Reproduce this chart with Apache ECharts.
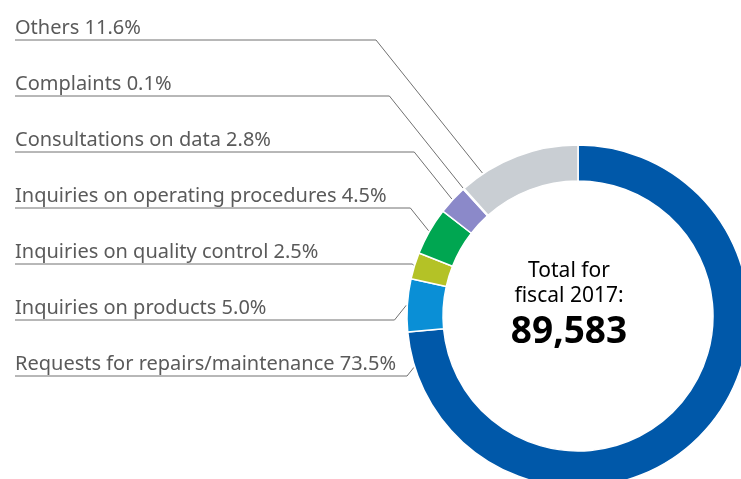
<!DOCTYPE html>
<html>
<head>
<meta charset="utf-8">
<script src="https://cdn.jsdelivr.net/npm/echarts@6/dist/echarts.min.js"></script>
<style>
  html, body { margin: 0; padding: 0; background: #fff; }
  #main { width: 741px; height: 479px; }
</style>
</head>
<body>
<div id="main"></div>
<script>
// data, clockwise from 12 o'clock
var categories = ['Requests for repairs/maintenance', 'Inquiries on products', 'Inquiries on quality control',
    'Inquiries on operating procedures', 'Consultations on data', 'Complaints', 'Others'];
var shares = [73.5, 5.0, 2.5, 4.5, 2.8, 0.1, 11.6];
var colors = ['#0058a9', '#0a8fd6', '#b4c226', '#00a651', '#8b89c9', '#9aa0a6', '#c9ced3'];
var totalLabel = ['Total for', 'fiscal 2017:'];
var totalValue = '89,583';

var cx = 578, cy = 316, rIn = 135, rOut = 171;
var labelLeft = 15, firstLine = 40, lineGap = 56;

var sum = shares.reduce(function (a, b) { return a + b; }, 0);

function anchorAngle(i) {
    var before = 0;
    for (var k = 0; k < i; k++) before += shares[k];
    var start = before / sum * 360, end = (before + shares[i]) / sum * 360;
    if (end - start > 30) {
        // big slices: point near the edge facing the labels
        return Math.abs(end - 270) < Math.abs(start - 270) ? end - 12 : start + 8;
    }
    return (start + end) / 2;
}

var chart = echarts.init(document.getElementById('main'));
var option = {
    animation: false,
    textStyle: {fontFamily: 'Noto Sans'},
    graphic: [{
        type: 'text',
        left: 569 - 60,
        top: 261,
        style: {
            text: '{a|' + totalLabel[0] + '}\n{a|' + totalLabel[1] + '}\n{b|' + totalValue + '}',
            width: 120,
            align: 'center',
            rich: {
                a: {fontFamily: 'Noto Sans', fontSize: 21, lineHeight: 25, color: '#5a5a5a', align: 'center', width: 120},
                b: {fontFamily: 'Noto Sans', fontSize: 37, fontWeight: 'bold', lineHeight: 46, color: '#111', align: 'center', width: 120}
            }
        }
    }],
    series: [{
        type: 'pie',
        center: [cx, cy],
        radius: [rIn, rOut],
        startAngle: 90,
        clockwise: true,
        avoidLabelOverlap: false,
        itemStyle: {borderColor: '#fff', borderWidth: 1.5},
        label: {
            show: true,
            color: '#5a5a5a',
            fontSize: 20,
            fontFamily: 'Noto Sans',
            formatter: function (p) { return p.name + ' ' + p.value.toFixed(1) + '%'; }
        },
        labelLine: {show: true, lineStyle: {color: '#707070', width: 1}},
        labelLayout: function (params) {
            var i = params.dataIndex;
            var a = anchorAngle(i) * Math.PI / 180;
            var px = cx + (rOut + 1) * Math.sin(a), py = cy - (rOut + 1) * Math.cos(a);
            var y = firstLine + lineGap * (categories.length - 1 - i);
            var kx = px - Math.abs(py - y) * 0.8;
            return {
                x: labelLeft,
                y: y - 2,
                align: 'left',
                verticalAlign: 'bottom',
                labelLinePoints: [[px, py], [kx, y], [labelLeft, y]]
            };
        },
        emphasis: {disabled: true},
        data: categories.map(function (c, i) {
            return {name: c, value: shares[i], itemStyle: {color: colors[i]}};
        })
    }]
};
chart.setOption(option);
</script>
</body>
</html>
